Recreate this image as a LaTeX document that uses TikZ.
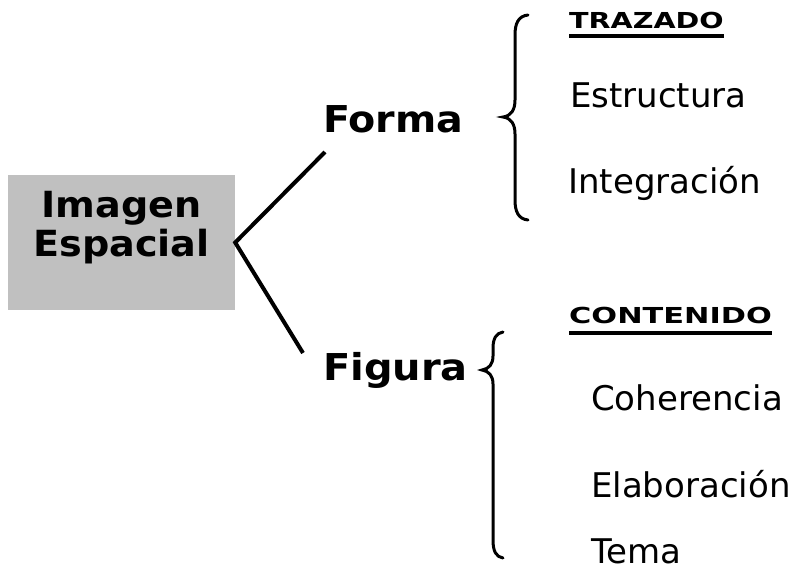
\documentclass[tikz,border=0pt]{standalone}
\usepackage{fontspec}
\setmainfont{DejaVu Sans}
\definecolor{boxgray}{HTML}{C0C0C0}

\begin{document}
\begin{tikzpicture}[x=1pt,y=-1pt,
    item/.style={inner sep=0pt, anchor=base west, font=\fontsize{34}{40}\selectfont},
    bigword/.style={inner sep=0pt, anchor=base west, font=\fontsize{37}{40}\selectfont\bfseries},
    heading/.style={inner sep=0pt, anchor=base west, font=\fontsize{22}{26}\selectfont\bfseries},
    ul/.style={line width=4pt},
    conn/.style={line width=4pt},
    brace/.style={line width=3pt, line cap=round}]
          \useasboundingbox (0,0) rectangle (799,576);
          \node[fill=boxgray, minimum width=227pt, minimum height=135pt, inner sep=0pt] (caja) at (121.5,242.5) {};
          \node[align=center, font=\fontsize{36}{39}\selectfont\bfseries] (imagen) at (121.5,228) {\scalebox{1.06}[1]{Imagen}\\\scalebox{1.06}[1]{Espacial}};
          \node[bigword] (forma) at (323,132) {\scalebox{1.07}[1]{Forma}};
          \node[bigword] (figura) at (323,380) {\scalebox{1.08}[1]{Figura}};
          %
          \coordinate (formapt) at (325,152);
          \coordinate (figurapt) at (303,353);
          \draw[conn] (formapt) -- (caja.east) -- (figurapt);
          % llaves
          \draw[brace] (528,15) .. controls (518,16) and (515,24) .. (515,35) -- (515,100)
            .. controls (515,110) and (511,116) .. (503,117)
            .. controls (511,118) and (515,124) .. (515,134) -- (515,200)
            .. controls (515,211) and (518,219) .. (528,220);
          \draw[brace] (503,332) .. controls (496,333) and (493,339) .. (493,348) -- (493,356)
            .. controls (493,364) and (489,369) .. (482,370)
            .. controls (489,371) and (493,376) .. (493,384) -- (493,540)
            .. controls (493,551) and (496,557) .. (503,558);
          %
          \node[heading] (trazado) at (569,28) {\scalebox{1.3}[1]{TRAZADO}};
          \draw[ul] ([yshift=-7.5pt]trazado.base west) -- ([yshift=-7.5pt]trazado.base east);
          \node[item] (estructura) at (570,107) {Estructura};
          \node[item] (integracion) at (568,193) {Integración};
          %
          \node[heading] (contenido) at (569,323) {\scalebox{1.38}[1]{CONTENIDO}};
          \draw[ul] ([yshift=-9.5pt]contenido.base west) -- ([yshift=-9.5pt]contenido.base east);
          \node[item] (coherencia) at (591,410) {Coherencia};
          \node[item] (elaboracion) at (591,497) {Elaboración};
          \node[item] (tema) at (591,563) {Tema};
        \end{tikzpicture}
\end{document}
